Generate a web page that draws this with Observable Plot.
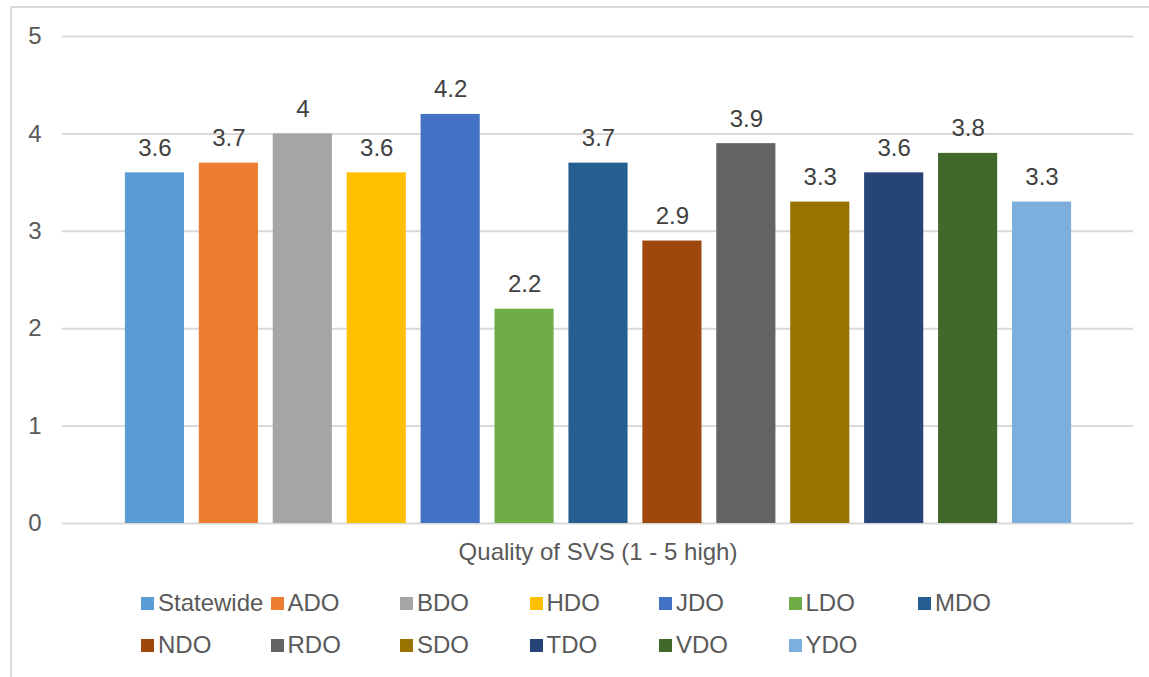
<!DOCTYPE html>
<html>
<head>
<meta charset="utf-8">
<script src="https://cdn.jsdelivr.net/npm/d3@7"></script>
<script src="https://cdn.jsdelivr.net/npm/@observablehq/plot@0.6"></script>
<style>
  html, body { margin: 0; padding: 0; background: #fff; }
  body { width: 1149px; height: 677px; overflow: hidden; position: relative; font-family: "Liberation Sans", Arial, sans-serif; }
  #frame { position: absolute; left: 10px; top: 6px; width: 1200px; height: 700px; border-left: 2px solid #d9d9d9; border-top: 2px solid #d9d9d9; box-sizing: border-box; }
  #chart { position: absolute; left: 0; top: 0; }
  #legend { position: absolute; left: 141px; top: 582px; display: grid; grid-template-columns: repeat(7, 129.5px); grid-auto-rows: 42px; }
  .item { display: flex; align-items: center; font-size: 24px; color: #595959; white-space: nowrap; }
  .sw { width: 13px; height: 13px; margin-right: 4px; flex: none; }
</style>
</head>
<body>
<div id="frame"></div>
<div id="chart"></div>
<div id="legend"></div>
<script>
const names = ["Statewide","ADO","BDO","HDO","JDO","LDO","MDO","NDO","RDO","SDO","TDO","VDO","YDO"];
const values = [3.6,3.7,4,3.6,4.2,2.2,3.7,2.9,3.9,3.3,3.6,3.8,3.3];
const colors = ["#5B9BD5","#ED7D31","#A5A5A5","#FFC000","#4472C4","#70AD47","#255E91","#9E480E","#636363","#997300","#264478","#43682B","#7CAFDD"];
const yTicks = [0,1,2,3,4,5];
const axisTitle = "Quality of SVS (1 - 5 high)";

const data = names.map((n, i) => ({name: n, value: values[i]}));

const chart = Plot.plot({
  width: 1149,
  height: 580,
  marginTop: 36,
  marginBottom: 57,
  marginLeft: 62,
  marginRight: 16,
  style: {fontFamily: '"Liberation Sans", Arial, sans-serif', background: "transparent"},
  x: {type: "band", domain: names, range: [117.5, 1078.5], paddingInner: 0.2, paddingOuter: 0.1, round: false, axis: null},
  y: {domain: [0, 5], axis: null},
  color: {domain: names, range: colors},
  marks: [
    Plot.ruleY(yTicks, {stroke: "#d9d9d9", strokeWidth: 2}),
    Plot.text(yTicks, {y: d => d, text: d => String(d), frameAnchor: "left", textAnchor: "end", dx: -21, fontSize: 24, fill: "#595959"}),
    Plot.barY(data, {x: "name", y: "value", fill: "name"}),
    Plot.text(data, {x: "name", y: "value", text: d => String(d.value), lineAnchor: "bottom", dy: -17, fontSize: 24, fill: "#404040"}),
    Plot.text([axisTitle], {frameAnchor: "bottom", text: d => d, lineAnchor: "middle", dy: 29, fontSize: 24, fill: "#595959"})
  ]
});
document.getElementById("chart").appendChild(chart);

const legend = document.getElementById("legend");
names.forEach((n, i) => {
  const it = document.createElement("div");
  it.className = "item";
  const sw = document.createElement("span");
  sw.className = "sw";
  sw.style.background = colors[i];
  it.appendChild(sw);
  it.appendChild(document.createTextNode(n));
  legend.appendChild(it);
});
</script>
</body>
</html>
